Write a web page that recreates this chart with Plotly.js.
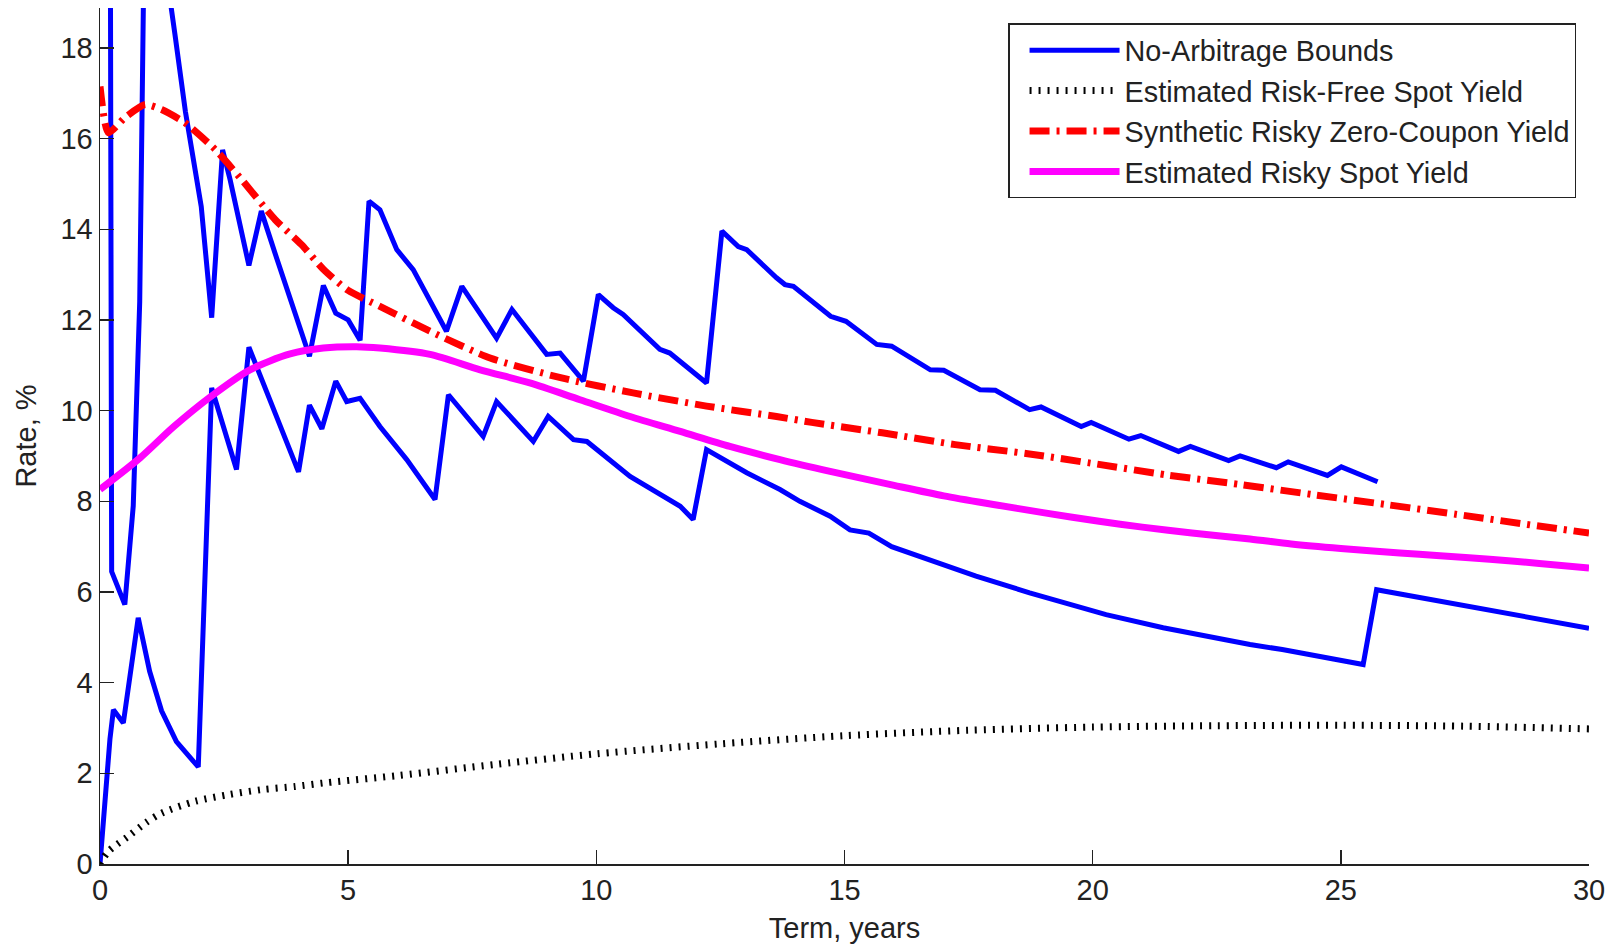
<!DOCTYPE html>
<html>
<head>
<meta charset="utf-8">
<script src="https://cdn.plot.ly/plotly-3.0.1.min.js"></script>
<style>
  html, body { margin: 0; padding: 0; background: #fff; }
  #chart { width: 1617px; height: 946px; }
</style>
</head>
<body>
<div id="chart"></div>
<script>
// ---- Data ----
// Upper no-arbitrage bound (values above ~19 are off the visible range)
const upperTerm = [0.2, 0.235, 0.5, 0.67, 0.8, 0.88, 1.15, 1.42, 1.51, 1.72, 2.04, 2.25, 2.47, 2.62, 3.0, 3.25, 3.56, 4.22, 4.5, 4.75, 5.0, 5.24, 5.42, 5.64, 5.98, 6.31, 6.98, 7.29, 7.99, 8.3, 9.0, 9.27, 9.74, 10.04, 10.34, 10.54, 11.28, 11.48, 12.22, 12.53, 12.86, 13.03, 13.63, 13.8, 13.97, 14.72, 15.03, 15.65, 15.95, 16.73, 17.0, 17.73, 18.04, 18.73, 18.96, 19.77, 19.97, 20.73, 20.97, 21.73, 21.97, 22.74, 22.97, 23.7, 23.94, 24.73, 25.01, 25.74];
const upperRate = [25, 6.45, 5.72, 7.9, 12.4, 19.5, 25, 19.0, 18.3, 16.6, 14.5, 12.05, 15.75, 15.1, 13.2, 14.4, 13.36, 11.2, 12.76, 12.15, 12.0, 11.55, 14.62, 14.43, 13.55, 13.11, 11.75, 12.74, 11.6, 12.23, 11.24, 11.27, 10.65, 12.56, 12.27, 12.12, 11.35, 11.27, 10.61, 13.96, 13.62, 13.55, 12.93, 12.78, 12.74, 12.08, 11.97, 11.46, 11.42, 10.9, 10.89, 10.46, 10.45, 10.02, 10.08, 9.65, 9.74, 9.37, 9.45, 9.1, 9.21, 8.9, 9.0, 8.74, 8.87, 8.57, 8.76, 8.43];

// Lower no-arbitrage bound
const lowerTerm = [0, 0.1, 0.2, 0.27, 0.47, 0.77, 1.0, 1.24, 1.54, 1.98, 2.25, 2.75, 3.0, 4.0, 4.22, 4.47, 4.75, 4.97, 5.24, 5.64, 6.18, 6.75, 7.02, 7.72, 7.99, 8.73, 9.03, 9.54, 9.81, 10.68, 11.69, 11.95, 12.22, 13.03, 13.7, 14.1, 14.71, 15.11, 15.49, 15.95, 17.03, 17.65, 18.73, 19.65, 20.27, 21.42, 22.58, 23.17, 23.82, 25.45, 25.72, 27.87, 30];
const lowerRate = [0, 1.4, 2.75, 3.4, 3.11, 5.43, 4.25, 3.38, 2.7, 2.14, 10.5, 8.7, 11.4, 8.65, 10.12, 9.6, 10.65, 10.2, 10.27, 9.65, 8.92, 8.04, 10.35, 9.43, 10.2, 9.32, 9.87, 9.36, 9.32, 8.55, 7.89, 7.6, 9.14, 8.63, 8.26, 8.0, 7.67, 7.37, 7.3, 7.0, 6.6, 6.35, 5.98, 5.68, 5.5, 5.21, 4.95, 4.84, 4.73, 4.4, 6.05, 5.61, 5.2];

// Estimated risk-free spot yield
const riskFreeTerm = [0, 0.17, 0.57, 0.91, 1.24, 1.91, 2.59, 3.26, 3.93, 4.53, 6, 8, 10, 12.5, 15, 17.5, 20, 22.5, 25, 27.5, 30];
const riskFreeRate = [0, 0.28, 0.61, 0.9, 1.12, 1.38, 1.53, 1.64, 1.71, 1.79, 1.95, 2.2, 2.43, 2.65, 2.83, 2.95, 3.02, 3.05, 3.06, 3.04, 2.98];

// Synthetic risky zero-coupon yield
const synthTerm = [0, 0.17, 0.5, 0.91, 1.24, 1.71, 2.32, 2.85, 3.53, 4.06, 4.5, 5.0, 5.64, 6.65, 7.86, 9.3, 10.74, 12.22, 13.63, 14.34, 15.76, 17.23, 18.69, 20.09, 21.5, 22.97, 24.42, 25.9, 27.34, 28.75, 30];
const synthRate = [17.15, 16.13, 16.46, 16.75, 16.64, 16.35, 15.76, 15.1, 14.21, 13.66, 13.12, 12.65, 12.3, 11.75, 11.16, 10.72, 10.39, 10.1, 9.87, 9.74, 9.51, 9.25, 9.05, 8.82, 8.58, 8.37, 8.15, 7.93, 7.71, 7.49, 7.3];

// Estimated risky spot yield
const riskySpotTerm = [0, 0.81, 1.48, 2.22, 3.02, 3.83, 4.5, 5.17, 5.64, 6.65, 7.66, 8.66, 9.67, 10.68, 11.69, 12.69, 13.7, 14.71, 16, 17, 18, 19, 20.13, 21, 22, 23.17, 24, 25, 26.19, 27, 28, 29, 30];
const riskySpotRate = [8.26, 8.96, 9.64, 10.3, 10.9, 11.25, 11.38, 11.41, 11.38, 11.24, 10.9, 10.61, 10.24, 9.87, 9.54, 9.21, 8.92, 8.66, 8.35, 8.12, 7.93, 7.75, 7.56, 7.43, 7.3, 7.17, 7.06, 6.96, 6.86, 6.8, 6.72, 6.63, 6.53];

const seriesNames = ['No-Arbitrage Bounds', 'Estimated Risk-Free Spot Yield', 'Synthetic Risky Zero-Coupon Yield', 'Estimated Risky Spot Yield'];
const xTicks = [0, 5, 10, 15, 20, 25, 30];
const yTicks = [0, 2, 4, 6, 8, 10, 12, 14, 16, 18];

const FONT = '"Liberation Sans", Arial, Helvetica, sans-serif';

const traces = [
  { x: upperTerm, y: upperRate, type: 'scatter', mode: 'lines', name: seriesNames[0],
    legendgroup: 'bounds', line: { color: '#0000ff', width: 5 } },
  { x: lowerTerm, y: lowerRate, type: 'scatter', mode: 'lines', name: seriesNames[0],
    legendgroup: 'bounds', showlegend: false, line: { color: '#0000ff', width: 5 } },
  { x: riskFreeTerm, y: riskFreeRate, type: 'scatter', mode: 'lines', name: seriesNames[1],
    line: { color: '#000000', width: 7, dash: '2px,7px', shape: 'spline', smoothing: 0.8 } },
  { x: synthTerm, y: synthRate, type: 'scatter', mode: 'lines', name: seriesNames[2],
    line: { color: '#ff0000', width: 7, dash: '20px,7px,3px,7px', shape: 'spline', smoothing: 0.6 } },
  { x: riskySpotTerm, y: riskySpotRate, type: 'scatter', mode: 'lines', name: seriesNames[3],
    line: { color: '#ff00ff', width: 7, shape: 'spline', smoothing: 0.8 } }
];

const layout = {
  width: 1617, height: 946,
  margin: { l: 100, r: 28, t: 8, b: 82, pad: 0 },
  paper_bgcolor: '#ffffff', plot_bgcolor: '#ffffff',
  font: { family: FONT, size: 29, color: '#222222' },
  showlegend: true,
  hovermode: false,
  xaxis: {
    range: [0, 30], tickvals: xTicks, ticktext: xTicks.map(String),
    ticks: 'inside', ticklen: 14, tickwidth: 1.5, tickcolor: '#222',
    showline: true, linecolor: '#222', linewidth: 1.5, mirror: false,
    showgrid: false, zeroline: false,
    tickfont: { family: FONT, size: 29, color: '#222' },
    title: { text: 'Term, years', font: { family: FONT, size: 29, color: '#222' }, standoff: 12 }
  },
  yaxis: {
    range: [0, 18.88], tickvals: yTicks, ticktext: yTicks.map(String),
    ticks: 'inside', ticklen: 14, tickwidth: 1.5, tickcolor: '#222',
    showline: true, linecolor: '#222', linewidth: 1.5, mirror: false,
    showgrid: false, zeroline: false,
    tickfont: { family: FONT, size: 29, color: '#222' },
    title: { text: 'Rate, %', font: { family: FONT, size: 29, color: '#222' }, standoff: 15 }
  },
  legend: {
    x: 0.9913, xanchor: 'right', y: 0.982, yanchor: 'top',
    bgcolor: '#ffffff', bordercolor: '#222', borderwidth: 1.5,
    font: { family: FONT, size: 28.8, color: '#222' },
    itemwidth: 90, indentation: 15, tracegroupgap: 0
  }
};

Plotly.newPlot('chart', traces, layout, { displayModeBar: false, staticPlot: true });
</script>
</body>
</html>
